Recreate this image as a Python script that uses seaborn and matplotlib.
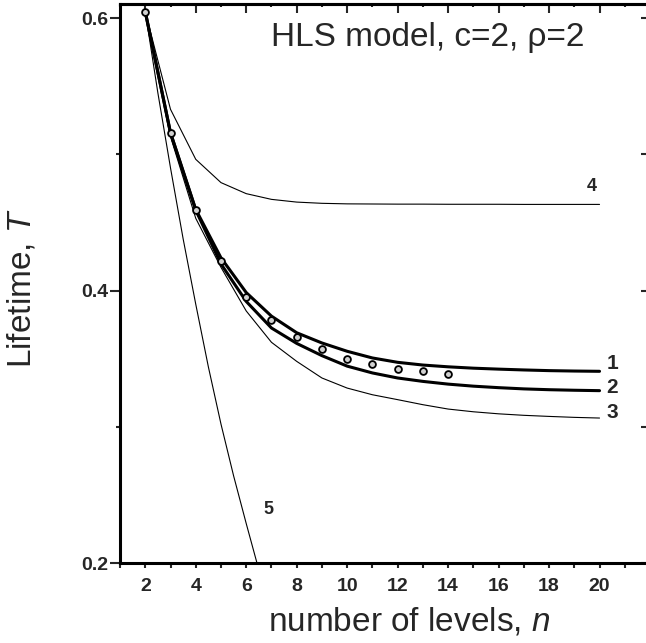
import matplotlib
matplotlib.use("Agg")
import matplotlib.pyplot as plt
import seaborn as sns
import pandas as pd

# ---- data ----
n_levels = list(range(2, 21))
curve1 = [0.6046, 0.5157, 0.4595, 0.4240, 0.3985, 0.3812, 0.3690, 0.3615, 0.3554, 0.3505,
          0.3473, 0.3453, 0.3440, 0.3430, 0.3423, 0.3417, 0.3412, 0.3409, 0.3407]
curve2 = [0.6046, 0.5157, 0.4590, 0.4195, 0.3920, 0.3725, 0.3612, 0.3522, 0.3445, 0.3395,
          0.3358, 0.3333, 0.3313, 0.3298, 0.3287, 0.3278, 0.3272, 0.3268, 0.3265]
curve3 = [0.6046, 0.5130, 0.4530, 0.4170, 0.3850, 0.3620, 0.3480, 0.3358, 0.3284, 0.3235,
          0.3199, 0.3162, 0.3130, 0.3110, 0.3095, 0.3084, 0.3076, 0.3069, 0.3064]
curve4 = [0.6046, 0.5330, 0.4963, 0.4792, 0.4711, 0.4669, 0.4649, 0.4640, 0.4636, 0.4635,
          0.4634, 0.4634, 0.4633, 0.4633, 0.4633, 0.4632, 0.4632, 0.4632, 0.4632]
n_curve5 = [2, 2.5, 3, 3.5, 4, 4.5, 5, 5.5, 6, 6.5, 7]
curve5 = [0.6046, 0.5450, 0.4900, 0.4380, 0.3900, 0.3440, 0.3020, 0.2640, 0.2290, 0.1950, 0.1640]
sim_n = list(range(2, 15))
sim_T = [0.6046, 0.5157, 0.4593, 0.4213, 0.3955, 0.3782, 0.3657, 0.3568, 0.3500,
         0.3461, 0.3421, 0.3407, 0.3387]

x_major = [2, 4, 6, 8, 10, 12, 14, 16, 18, 20]
x_minor = [1, 3, 5, 7, 9, 11, 13, 15, 17, 19, 21]
y_major = [0.2, 0.4, 0.6]
y_minor = [0.3, 0.5]
y_major_labels = ["0.2", "0.4", "0.6"]

title_text = "HLS model, c=2, \u03c1=2"
xlabel_text = r"number of levels, $\mathit{n}$"
ylabel_text = r"Lifetime, $\mathit{T}$"

# ---- style ----
sns.set_style("ticks")
plt.rcParams["font.family"] = ["Liberation Sans", "DejaVu Sans"]
plt.rcParams["mathtext.fontset"] = "custom"
plt.rcParams["mathtext.rm"] = "Liberation Sans"
plt.rcParams["mathtext.it"] = "Liberation Sans:italic"

fig = plt.figure(figsize=(6.46, 6.43), dpi=100)
ax = fig.add_axes([0.1858, 0.1244, 0.8204, 0.8694])

thin = 0.8
thick = 2.2

df_thin = [
    (n_levels, curve4),
    (n_levels, curve3),
    (n_curve5, curve5),
]
for xs, ys in df_thin:
    d = pd.DataFrame({"n": xs, "T": ys})
    sns.lineplot(data=d, x="n", y="T", ax=ax, color="black", linewidth=thin,
                 estimator=None, sort=False)

for ys in (curve2, curve1):
    d = pd.DataFrame({"n": n_levels, "T": ys})
    sns.lineplot(data=d, x="n", y="T", ax=ax, color="black", linewidth=thick,
                 estimator=None, sort=False)

sim_df = pd.DataFrame({"n": sim_n, "T": sim_T})
sns.scatterplot(data=sim_df, x="n", y="T", ax=ax, s=24, color="#d0d0d0",
                edgecolor="black", linewidth=1.3, zorder=5)

ax.set_xlim(1, 22)
ax.set_ylim(0.2, 0.6103)

# ticks
ax.set_xticks(x_major)
ax.set_xticks(x_minor, minor=True)
ax.set_yticks(y_major)
ax.set_yticklabels(y_major_labels)
ax.set_yticks(y_minor, minor=True)
ax.tick_params(axis="x", which="major", direction="out", length=3.6, width=1.5,
               pad=7, labelsize=14, top=False)
ax.tick_params(axis="x", which="minor", direction="out", length=3.6, width=1.5, top=False)
ax.tick_params(axis="y", which="major", direction="out", length=7.2, width=1.5,
               pad=1.5, labelsize=14, right=False)
ax.tick_params(axis="y", which="minor", direction="out", length=3.0, width=1.5, right=False)
for lab in ax.get_xticklabels() + ax.get_yticklabels():
    lab.set_fontweight("bold")

for side in ("left", "bottom", "top"):
    ax.spines[side].set_linewidth(2.2)
    ax.spines[side].set_color("black")
ax.spines["right"].set_visible(False)

sec_top = ax.secondary_xaxis("top")
sec_top.set_xticks(x_major)
sec_top.set_xticks(x_minor, minor=True)
sec_top.tick_params(axis="x", which="major", direction="in", length=6.5, width=1.5,
                    labeltop=False, labelbottom=False)
sec_top.tick_params(axis="x", which="minor", direction="in", length=2.5, width=1.5,
                    labeltop=False, labelbottom=False)
sec_top.spines["top"].set_linewidth(2.2)

sec_right = ax.secondary_yaxis("right")
sec_right.set_yticks(y_major)
sec_right.set_yticks(y_minor, minor=True)
sec_right.tick_params(axis="y", which="both", direction="in", length=6.5, width=1.5,
                      labelright=False, labelleft=False)

# labels
ax.set_xlabel(xlabel_text, fontsize=24)
ax.set_ylabel(ylabel_text, fontsize=24)
ax.xaxis.set_label_coords(0.545, -0.1216)
ax.xaxis.label.set_va("baseline")
ax.yaxis.set_label_coords(-0.185, 0.492)
ax.yaxis.label.set_va("center")
ax.yaxis.label.set_ha("center")

ax.text(7.0, 0.5857, title_text, fontsize=24, ha="left", va="center")

ax.text(20.27, 0.3467, "1", fontsize=15, fontweight="bold", ha="left", va="center")
ax.text(20.27, 0.3285, "2", fontsize=15, fontweight="bold", ha="left", va="center")
ax.text(20.27, 0.3107, "3", fontsize=15, fontweight="bold", ha="left", va="center")
ax.text(19.68, 0.4767, "4", fontsize=13, fontweight="bold", ha="center", va="center")
ax.text(6.9, 0.2390, "5", fontsize=13, fontweight="bold", ha="center", va="center")

fig.savefig("out.png", dpi=100)
